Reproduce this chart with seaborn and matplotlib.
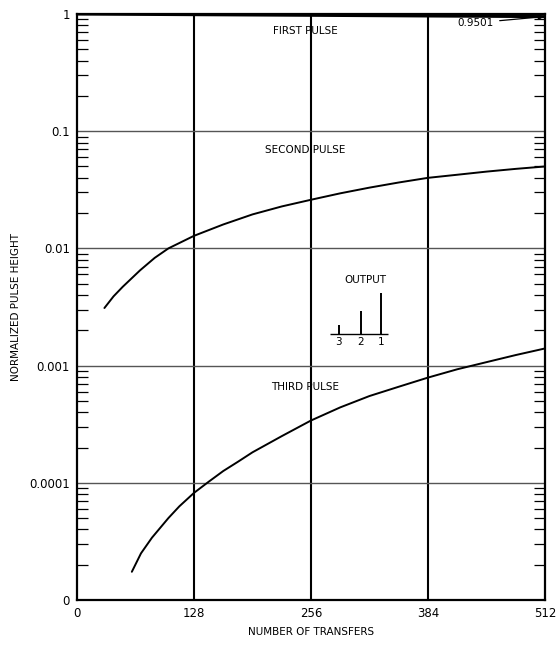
import matplotlib
matplotlib.use("Agg")
import matplotlib.pyplot as plt
import seaborn as sns
from matplotlib.ticker import LogLocator, FixedLocator, FixedFormatter, NullFormatter

# values
first_x = [0, 128, 256, 384, 512]
first_y = [1.0, 0.987, 0.975, 0.962, 0.9501]

second_x = [30, 40, 50, 69, 85, 100, 128, 160, 192, 224, 256, 288, 320, 352, 384, 416, 448, 480, 512]
second_y = [0.0031, 0.0039, 0.0047, 0.0065, 0.0083, 0.0100, 0.0128, 0.016, 0.0195, 0.0228, 0.026,
            0.0295, 0.033, 0.0365, 0.040, 0.0425, 0.0452, 0.0477, 0.050]

third_x = [60, 70, 82, 100, 112, 128, 144, 160, 176, 192, 224, 256, 288, 320, 352, 384, 416, 448, 480, 512]
third_y = [1.74e-5, 2.5e-5, 3.4e-5, 5.0e-5, 6.3e-5, 8.2e-5, 1.02e-4, 1.26e-4, 1.51e-4, 1.82e-4, 2.5e-4,
           3.4e-4, 4.4e-4, 5.5e-4, 6.6e-4, 7.9e-4, 9.3e-4, 1.07e-3, 1.23e-3, 1.4e-3]

x_ticks = [0, 128, 256, 384, 512]
y_ticks = [1e-5, 1e-4, 1e-3, 1e-2, 1e-1, 1]
y_labels = ["0", "0.0001", "0.001", "0.01", "0.1", "1"]

output_labels = ["3", "2", "1"]
output_heights = [0.2, 0.55, 1.0]

sns.set_style("white")
plt.rcParams["font.family"] = ["DejaVu Sans"]
plt.rcParams["text.color"] = "black"
plt.rcParams["axes.labelcolor"] = "black"

fig = plt.figure(figsize=(5.6, 6.45), dpi=100)
ax = fig.add_axes([0.1375, 0.0698, 0.8357, 0.9085])

sns.lineplot(x=first_x, y=first_y, color="black", linewidth=2.2, ax=ax)
sns.lineplot(x=second_x, y=second_y, color="black", linewidth=1.4, ax=ax)
sns.lineplot(x=third_x, y=third_y, color="black", linewidth=1.4, ax=ax)

ax.set_yscale("log")
ax.set_xlim(0, 512)
ax.set_ylim(1e-5, 1)

ax.xaxis.set_major_locator(FixedLocator(x_ticks))
ax.yaxis.set_major_locator(FixedLocator(y_ticks))
ax.yaxis.set_major_formatter(FixedFormatter(y_labels))
ax.yaxis.set_minor_locator(LogLocator(base=10, subs=range(2, 10)))
ax.yaxis.set_minor_formatter(NullFormatter())

ax.tick_params(axis="both", which="major", length=0, labelsize=8.5, pad=5,
               colors="black", labelcolor="black")
ax.tick_params(axis="y", which="minor", direction="in", length=8, width=0.9,
               left=True, right=True, color="black")

for v in x_ticks[1:-1]:
    ax.axvline(v, color="black", linewidth=1.5, zorder=1)
for v in y_ticks[1:-1]:
    ax.axhline(v, color="#555555", linewidth=1.0, zorder=1)

for s in ax.spines.values():
    s.set_color("black")
    s.set_linewidth(1.6)

ax.set_xlabel("NUMBER OF TRANSFERS", fontsize=7.5, labelpad=5)
ax.set_ylabel("NORMALIZED PULSE HEIGHT", fontsize=7.5, labelpad=6)

ax.text(250, 0.72, "FIRST PULSE", fontsize=7.5, ha="center", va="center")
ax.text(250, 0.069, "SECOND PULSE", fontsize=7.5, ha="center", va="center")
ax.text(250, 6.6e-4, "THIRD PULSE", fontsize=7.5, ha="center", va="center")

ax.annotate("0.9501", xy=(511, 0.95), xytext=(436, 0.84), fontsize=7.5,
            ha="center", va="center",
            arrowprops=dict(arrowstyle="-|>", color="black", lw=0.9,
                            shrinkA=2, shrinkB=0, mutation_scale=8))

# small OUTPUT sketch
ins = fig.add_axes([328 / 560, 1 - 352 / 645, 62 / 560, 80 / 645])
ins.set_xlim(0, 4)
ins.set_ylim(-0.45, 1.5)
ins.axis("off")
ins.vlines([0.7, 2.1, 3.4], 0, output_heights, color="black", linewidth=1.4)
ins.hlines(0, 0.15, 3.9, color="black", linewidth=1.0)
for xi, lab in zip([0.7, 2.1, 3.4], output_labels):
    ins.text(xi, -0.08, lab, fontsize=7.5, ha="center", va="top")
ins.text(2.4, 1.3, "OUTPUT", fontsize=7.5, ha="center", va="center")

fig.savefig("out.png", dpi=100)
